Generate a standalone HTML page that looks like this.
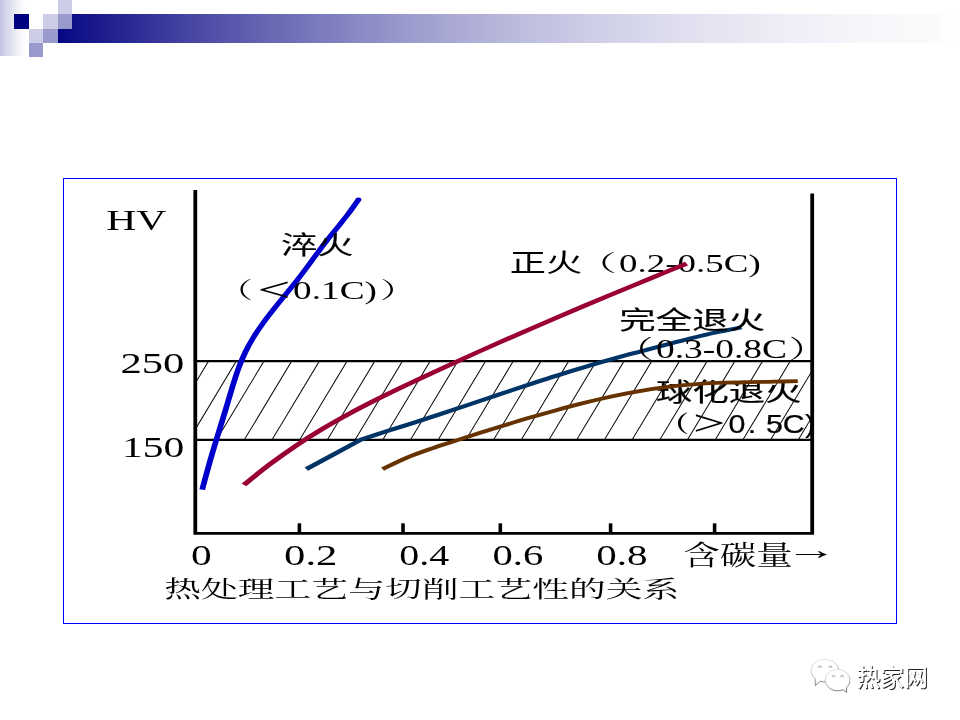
<!DOCTYPE html>
<html lang="zh-CN">
<head>
<meta charset="utf-8">
<title>热处理工艺与切削工艺性的关系</title>
<style>
html,body{margin:0;padding:0;background:#fff;}
body{width:960px;height:720px;overflow:hidden;position:relative;font-family:'Liberation Serif','Noto Serif CJK SC',serif;}
.hdr div{position:absolute;}
.strip{left:0;top:0;width:27px;height:56px;background:linear-gradient(to right,#c3c3e2 0.0%,#c9c9e5 8.3%,#d0d0e8 16.7%,#d6d6eb 25.0%,#dcdcee 33.3%,#e1e1f1 41.7%,#e7e7f3 50.0%,#ececf6 58.3%,#f1f1f8 66.7%,#f5f5fa 75.0%,#f9f9fc 83.3%,#fdfdfe 91.7%,#ffffff 100.0%);}
.bar{left:58px;top:14px;width:902px;height:29px;background:linear-gradient(to right,#060683 0.0%,#0e0e87 1.7%,#16168b 3.3%,#1d1d8e 5.0%,#242492 6.7%,#2b2b96 8.3%,#323299 10.0%,#39399d 11.7%,#4040a0 13.3%,#4747a3 15.0%,#4e4ea7 16.7%,#5454aa 18.3%,#5a5aad 20.0%,#6161b0 21.7%,#6767b3 23.3%,#6c6cb6 25.0%,#7272b9 26.7%,#7878bc 28.3%,#7e7ebf 30.0%,#8383c1 31.7%,#8989c4 33.3%,#8e8ec7 35.0%,#9494c9 36.7%,#9999cc 38.3%,#9e9ecf 40.0%,#a3a3d1 41.7%,#a8a8d3 43.3%,#acacd6 45.0%,#b1b1d8 46.7%,#b5b5da 48.3%,#b9b9dc 50.0%,#bdbdde 51.7%,#c1c1e0 53.3%,#c4c4e2 55.0%,#c8c8e4 56.7%,#cbcbe5 58.3%,#cfcfe7 60.0%,#d2d2e9 61.7%,#d5d5ea 63.3%,#d8d8ec 65.0%,#dbdbed 66.7%,#dedeee 68.3%,#e0e0f0 70.0%,#e3e3f1 71.7%,#e5e5f2 73.3%,#e7e7f3 75.0%,#e9e9f4 76.7%,#ebebf5 78.3%,#ededf6 80.0%,#efeff7 81.7%,#f0f0f8 83.3%,#f2f2f9 85.0%,#f3f3f9 86.7%,#f5f5fa 88.3%,#f6f6fb 90.0%,#f7f7fb 91.7%,#f9f9fc 93.3%,#f9f9fc 95.0%,#fafafd 96.7%,#fefefe 98.3%,#ffffff 100.0%);}
svg{position:absolute;left:0;top:0;}
</style>
</head>
<body>
<div class="hdr">
<div class="strip"></div>
<div class="bar"></div>
<div style="left:58px;top:0;width:14px;height:14px;background:#cccce6"></div>
<div style="left:14px;top:14px;width:15px;height:15px;background:#000080"></div>
<div style="left:43px;top:14px;width:15px;height:15px;background:#cccce6"></div>
<div style="left:58px;top:14px;width:14px;height:15px;background:#9999cc"></div>
<div style="left:29px;top:29px;width:14px;height:14px;background:#cccce6"></div>
<div style="left:43px;top:29px;width:15px;height:14px;background:#9999cc"></div>
<div style="left:29px;top:43px;width:14px;height:14px;background:#9999cc"></div>
</div>
<svg width="960" height="720" viewBox="0 0 960 720">
<defs>
<clipPath id="band"><rect x="136.57" y="361" width="431.47" height="78.7"/></clipPath>
</defs>
<rect x="63.5" y="178.5" width="833" height="445" fill="#fff" stroke="#0000ff" stroke-width="1"/>
<g transform="scale(1.43,1)">
<g clip-path="url(#band)" stroke="#000" stroke-width="0.72" fill="none">
<line x1="74.06" y1="439.7" x2="107.13" y2="361.0"/>
<line x1="93.43" y1="439.7" x2="126.50" y2="361.0"/>
<line x1="112.80" y1="439.7" x2="145.87" y2="361.0"/>
<line x1="132.17" y1="439.7" x2="165.24" y2="361.0"/>
<line x1="151.54" y1="439.7" x2="184.62" y2="361.0"/>
<line x1="170.91" y1="439.7" x2="203.99" y2="361.0"/>
<line x1="190.28" y1="439.7" x2="223.36" y2="361.0"/>
<line x1="209.65" y1="439.7" x2="242.73" y2="361.0"/>
<line x1="229.02" y1="439.7" x2="262.10" y2="361.0"/>
<line x1="248.39" y1="439.7" x2="281.47" y2="361.0"/>
<line x1="267.76" y1="439.7" x2="300.84" y2="361.0"/>
<line x1="287.13" y1="439.7" x2="320.21" y2="361.0"/>
<line x1="306.50" y1="439.7" x2="339.58" y2="361.0"/>
<line x1="325.87" y1="439.7" x2="358.95" y2="361.0"/>
<line x1="345.24" y1="439.7" x2="378.32" y2="361.0"/>
<line x1="364.62" y1="439.7" x2="397.69" y2="361.0"/>
<line x1="383.99" y1="439.7" x2="417.06" y2="361.0"/>
<line x1="403.36" y1="439.7" x2="436.43" y2="361.0"/>
<line x1="422.73" y1="439.7" x2="455.80" y2="361.0"/>
<line x1="442.10" y1="439.7" x2="475.17" y2="361.0"/>
<line x1="461.47" y1="439.7" x2="494.55" y2="361.0"/>
<line x1="480.84" y1="439.7" x2="513.92" y2="361.0"/>
<line x1="500.21" y1="439.7" x2="533.29" y2="361.0"/>
<line x1="519.58" y1="439.7" x2="552.66" y2="361.0"/>
<line x1="538.95" y1="439.7" x2="572.03" y2="361.0"/>
<line x1="558.32" y1="439.7" x2="591.40" y2="361.0"/>
</g>
<g stroke="#000" fill="none" stroke-linecap="butt">
<path d="M136.57 190 V533.3 H567.97 V193.6" stroke-width="2.65" stroke-linejoin="miter"/>
<line x1="136.57" y1="361.1" x2="567.97" y2="361.1" stroke-width="2.15"/>
<line x1="136.57" y1="439.8" x2="567.97" y2="439.8" stroke-width="2.15"/>
<line x1="209.37" y1="523.3" x2="209.37" y2="533.3" stroke-width="2.5"/>
<line x1="281.82" y1="523.3" x2="281.82" y2="533.3" stroke-width="2.5"/>
<line x1="349.86" y1="523.3" x2="349.86" y2="533.3" stroke-width="2.5"/>
<line x1="426.99" y1="523.3" x2="426.99" y2="533.3" stroke-width="2.5"/>
<line x1="499.72" y1="523.3" x2="499.72" y2="533.3" stroke-width="2.5"/>
</g>
<g fill="none" stroke-linecap="butt" stroke-linejoin="round">
<path d="M141.40 489.60 C141.83 487.30 143.12 480.39 144.00 475.79 C144.89 471.19 145.78 466.58 146.70 461.98 C147.63 457.38 148.58 452.77 149.55 448.17 C150.51 443.57 151.50 438.97 152.48 434.36 C153.47 429.76 154.46 425.16 155.45 420.55 C156.43 415.95 157.42 411.35 158.39 406.74 C159.36 402.14 160.30 397.54 161.27 392.93 C162.24 388.33 163.17 383.73 164.23 379.12 C165.28 374.52 166.35 369.92 167.61 365.31 C168.87 360.71 170.20 356.11 171.77 351.50 C173.35 346.90 175.10 342.30 177.07 337.70 C179.03 333.09 181.26 328.49 183.58 323.89 C185.89 319.28 188.41 314.68 190.94 310.08 C193.46 305.47 196.13 300.87 198.73 296.27 C201.33 291.66 204.01 287.06 206.55 282.46 C209.09 277.85 211.57 273.25 213.98 268.65 C216.40 264.04 218.65 259.44 221.04 254.84 C223.43 250.23 225.84 245.63 228.35 241.03 C230.86 236.43 233.54 231.82 236.11 227.22 C238.68 222.62 241.33 218.01 243.76 213.41 C246.19 208.81 249.54 201.90 250.70 199.60" stroke="#0000cc" stroke-width="4.05"/>
<circle cx="250.70" cy="199.60" r="2.02" fill="#0000cc" stroke="none"/>
<path d="M214.20 469.15 C220.59 464.21 246.19 444.44 252.59 439.50 C255.54 438.13 264.40 433.99 270.31 431.30 C276.22 428.61 282.13 426.04 288.04 423.36 C293.95 420.67 299.85 417.94 305.76 415.17 C311.67 412.41 317.58 409.58 323.49 406.76 C329.40 403.94 335.30 401.09 341.21 398.25 C347.12 395.42 353.03 392.57 358.94 389.76 C364.85 386.95 370.75 384.14 376.66 381.40 C382.57 378.66 388.48 375.94 394.39 373.31 C400.30 370.68 406.20 368.09 412.11 365.61 C418.02 363.13 423.93 360.75 429.84 358.42 C435.75 356.09 441.65 353.88 447.56 351.63 C453.47 349.39 459.38 347.15 465.29 344.95 C471.20 342.75 477.10 340.52 483.01 338.43 C488.92 336.35 494.83 334.29 500.74 332.45 C506.64 330.61 515.51 328.24 518.46 327.40" stroke="#003366" stroke-width="4.0"/>
</g>
</g>
<g fill="#000">
<g><text transform="translate(106.25,229.71) scale(1.4091,1)" font-size="29.55" font-family="'Liberation Serif','Noto Serif CJK SC',serif" font-weight="400">HV</text></g>
<g><text transform="translate(120.40,373.20) scale(1.4202,1)" font-size="30.00" font-family="'Liberation Serif','Noto Serif CJK SC',serif" font-weight="400">250</text></g>
<g><text transform="translate(121.96,456.83) scale(1.4483,1)" font-size="28.68" font-family="'Liberation Serif','Noto Serif CJK SC',serif" font-weight="400">150</text></g>
<g><text transform="translate(190.94,564.72) scale(1.4308,1)" font-size="28.96" font-family="'Liberation Serif','Noto Serif CJK SC',serif" font-weight="400">0</text></g>
<g><text transform="translate(284.09,564.72) scale(1.4745,1)" font-size="28.96" font-family="'Liberation Serif','Noto Serif CJK SC',serif" font-weight="400">0.2</text></g>
<g><text transform="translate(399.31,564.72) scale(1.3771,1)" font-size="28.96" font-family="'Liberation Serif','Noto Serif CJK SC',serif" font-weight="400">0.4</text></g>
<g><text transform="translate(492.52,564.72) scale(1.4034,1)" font-size="28.96" font-family="'Liberation Serif','Noto Serif CJK SC',serif" font-weight="400">0.6</text></g>
<g><text transform="translate(596.36,564.72) scale(1.4169,1)" font-size="28.96" font-family="'Liberation Serif','Noto Serif CJK SC',serif" font-weight="400">0.8</text></g>
<g><text transform="translate(683.34,564.56) scale(1.3636,1)" font-size="26.74" font-family="'Liberation Serif','Noto Serif CJK SC',serif" font-weight="400">含碳量</text><text transform="translate(785.66,558.95) scale(1.9177,1)" font-size="26.96" font-family="'Liberation Serif','Noto Serif CJK SC',serif" font-weight="400">→</text></g>
<g><text transform="translate(164.13,597.05) scale(1.6152,1)" font-size="22.80" font-family="'Liberation Serif','Noto Serif CJK SC',serif" font-weight="400">热处理工艺与切削工艺性的关系</text></g>
<g><text transform="translate(280.95,253.60) scale(1.4218,1)" font-size="25.53" font-family="'Liberation Sans','Noto Sans CJK SC',sans-serif" font-weight="400" stroke="#000" stroke-width="0.1" stroke-linejoin="round">淬火</text></g>
<g><text transform="translate(217.19,298.07) scale(1.5816,1)" font-size="22.58" font-family="'Liberation Serif','Noto Serif CJK SC',serif" font-weight="400">（</text><text transform="translate(257.47,301.00) scale(1.7187,1)" font-size="34.04" font-family="'Liberation Serif','Noto Serif CJK SC',serif" font-weight="400">&lt;</text><text transform="translate(293.11,298.62) scale(1.4260,1)" font-size="26.11" font-family="'Liberation Serif','Noto Serif CJK SC',serif" font-weight="400">0.1C)</text><text transform="translate(379.90,298.07) scale(1.6449,1)" font-size="22.58" font-family="'Liberation Serif','Noto Serif CJK SC',serif" font-weight="400">）</text></g>
<g><text transform="translate(509.69,272.43) scale(1.3970,1)" font-size="25.93" font-family="'Liberation Sans','Noto Sans CJK SC',sans-serif" font-weight="400">正火</text><text transform="translate(576.04,271.37) scale(1.8031,1)" font-size="22.58" font-family="'Liberation Serif','Noto Serif CJK SC',serif" font-weight="400">（</text><text transform="translate(619.12,271.59) scale(1.4095,1)" font-size="26.22" font-family="'Liberation Serif','Noto Serif CJK SC',serif" font-weight="400">0.2-0.5C)</text></g>
<g><text transform="translate(619.24,329.09) scale(1.4863,1)" font-size="24.53" font-family="'Liberation Sans','Noto Sans CJK SC',sans-serif" font-weight="400" stroke="#000" stroke-width="0.2" stroke-linejoin="round">完全退火</text></g>
<g><text transform="translate(615.36,358.16) scale(1.5385,1)" font-size="24.84" font-family="'Liberation Serif','Noto Serif CJK SC',serif" font-weight="400">（</text><text transform="translate(655.90,358.24) scale(1.3436,1)" font-size="27.91" font-family="'Liberation Serif','Noto Serif CJK SC',serif" font-weight="400">0.3-0.8C</text><text transform="translate(788.72,358.16) scale(1.5385,1)" font-size="24.84" font-family="'Liberation Serif','Noto Serif CJK SC',serif" font-weight="400">）</text></g>
<g><text transform="translate(656.11,401.32) scale(1.4341,1)" font-size="25.32" font-family="'Liberation Sans','Noto Sans CJK SC',sans-serif" font-weight="400" stroke="#000" stroke-width="0.2" stroke-linejoin="round">球化退火</text></g>
<g><text transform="translate(658.59,431.76) scale(1.3387,1)" font-size="22.66" font-family="'Liberation Serif','Noto Serif CJK SC',serif" font-weight="700">（</text><text transform="translate(692.94,434.97) scale(1.6256,1)" font-size="35.21" font-family="'Liberation Serif','Noto Serif CJK SC',serif" font-weight="400">&gt;</text><text transform="translate(728.39,432.55) scale(1.1994,1)" x="0.00 16.07 31.26 45.43 63.87" font-size="25.35" font-family="'Liberation Sans','Noto Sans CJK SC',sans-serif" font-weight="400" stroke="#000" stroke-width="0.25" stroke-linejoin="round">0.5C)</text></g>
</g>
<g transform="scale(1.43,1)" fill="none" stroke-linecap="butt" stroke-linejoin="round">
<path d="M170.56 484.90 C173.59 481.45 182.70 470.75 188.77 464.21 C194.84 457.67 200.91 451.51 206.98 445.66 C213.05 439.82 219.12 434.38 225.19 429.15 C231.26 423.92 237.33 419.04 243.40 414.31 C249.47 409.57 255.54 405.11 261.61 400.72 C267.68 396.33 273.75 392.15 279.82 387.98 C285.89 383.82 291.96 379.76 298.03 375.71 C304.10 371.66 310.17 367.65 316.24 363.68 C322.31 359.71 328.38 355.78 334.45 351.88 C340.53 347.99 346.60 344.13 352.67 340.30 C358.74 336.47 364.81 332.67 370.88 328.91 C376.95 325.14 383.02 321.41 389.09 317.70 C395.16 313.98 401.23 310.30 407.30 306.64 C413.37 302.99 419.44 299.35 425.51 295.74 C431.58 292.13 437.65 288.54 443.72 284.96 C449.79 281.39 455.86 277.86 461.93 274.30 C468.00 270.74 477.10 265.38 480.14 263.60" stroke="#990033" stroke-width="4.15"/>
<path d="M267.55 469.10 C270.40 467.19 278.94 461.06 284.63 457.64 C290.32 454.22 296.02 451.43 301.71 448.59 C307.40 445.75 313.10 443.24 318.79 440.61 C324.48 437.98 330.18 435.38 335.87 432.82 C341.56 430.25 347.26 427.70 352.95 425.20 C358.64 422.71 364.34 420.25 370.03 417.87 C375.72 415.48 381.42 413.14 387.11 410.90 C392.80 408.65 398.49 406.46 404.19 404.39 C409.88 402.32 415.57 400.32 421.27 398.47 C426.96 396.62 432.65 394.87 438.35 393.30 C444.04 391.73 449.73 390.28 455.43 389.04 C461.12 387.80 466.81 386.71 472.51 385.84 C478.20 384.97 483.89 384.34 489.58 383.82 C495.28 383.29 500.97 382.99 506.66 382.71 C512.36 382.44 518.05 382.31 523.74 382.15 C529.44 381.98 535.13 381.90 540.82 381.72 C546.52 381.55 555.06 381.20 557.90 381.10" stroke="#663300" stroke-width="3.8"/>
</g>
</svg>
<svg width="960" height="720" viewBox="0 0 960 720" style="pointer-events:none">
<defs>
<linearGradient id="wg" x1="0" y1="0" x2="0.25" y2="1">
<stop offset="0" stop-color="#e6e6e6"/><stop offset="0.45" stop-color="#bdbdbd"/><stop offset="1" stop-color="#5a5a5a"/>
</linearGradient>
</defs>
<g fill="#fff" stroke="url(#wg)" stroke-width="0.8" stroke-linejoin="round">
<path d="M820.15 681.22 L815.4 685.6 L815.13 678.59 A13.75 11.3 0 1 1 820.15 681.22 Z"/>
<path d="M843.01 689.72 L846.7 692.4 L846.48 687.53 A12.35 10.7 0 1 0 843.01 689.72 Z"/>
</g>
<g fill="none" stroke="#8c8c8c" stroke-width="0.8" stroke-linecap="round">
<path d="M818.3 667.6 A1.5 1.6 0 0 1 821.3 667.6"/>
<path d="M828.9 667.6 A1.5 1.6 0 0 1 831.9 667.6"/>
<path d="M832.3 676.8 A1.3 1.4 0 0 1 834.9 676.8"/>
<path d="M840.8 676.8 A1.3 1.4 0 0 1 843.4 676.8"/>
</g>
<text x="856.4" y="685.5" font-family="'Liberation Sans','Noto Sans CJK SC',sans-serif" font-size="23.85" font-weight="500" fill="#fff" style="text-shadow:1px 1px 0.6px rgba(0,0,0,.85)">热家网</text>
</svg>
</body>
</html>
